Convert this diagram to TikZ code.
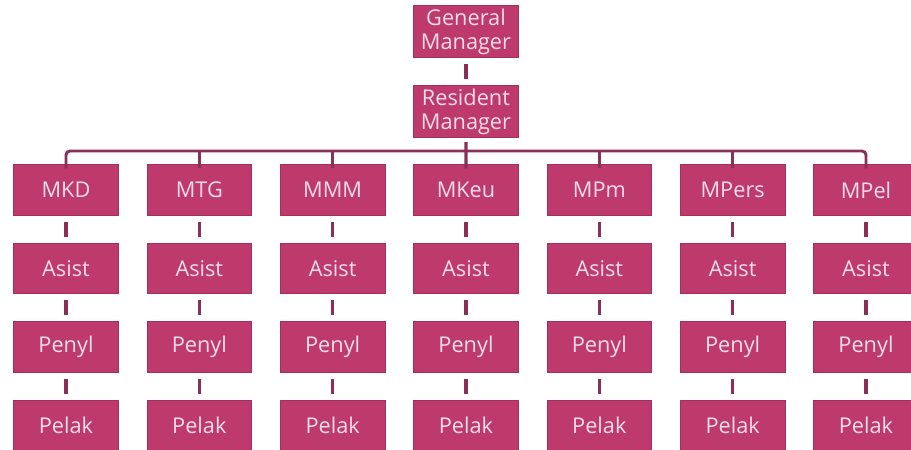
\documentclass[tikz,border=0pt]{standalone}
\usepackage{fontspec}
\setmainfont{Open Sans}
\definecolor{boxfill}{HTML}{BE3A6C}
\definecolor{linecol}{HTML}{8A2F58}
\definecolor{txtcol}{HTML}{F6DDE8}
\begin{document}
\begin{tikzpicture}[x=0.75pt,y=-0.75pt,
  orgbox/.style={draw=boxfill!85!black,line width=0.6pt,fill=boxfill,text=txtcol,minimum width=78.5pt,minimum height=38pt,inner sep=0pt,align=center,font=\fontsize{16.3}{18.8}\selectfont},
  link/.style={draw=linecol,line width=2.4pt,shorten >=4.5pt,shorten <=4.5pt},
  bus/.style={draw=linecol,line width=2.2pt,rounded corners=3pt}]
\useasboundingbox (0,0) rectangle (911,450);
\node[orgbox,minimum height=39pt] (gm) at (466,31.5) {General\\[-1pt]Manager};
\node[orgbox,minimum height=39pt] (rm) at (466,111.5) {Resident\\[-1pt]Manager};
\draw[link] (gm.south) -- (rm.south |- rm.north);
\foreach \i/\name in {0/MKD,1/MTG,2/MMM,3/MKeu,4/MPm,5/MPers,6/MPel}{
  \pgfmathsetmacro{\cx}{66+133.333*\i}
  \node[orgbox] (m\i) at (\cx,190) {\name};
  \node[orgbox] (a\i) at (\cx,268.5) {Asist};
  \node[orgbox] (p\i) at (\cx,347) {Penyl};
  \node[orgbox] (l\i) at (\cx,425.5) {Pelak};
  \draw[link] (m\i.south) -- (a\i.north);
  \draw[link] (a\i.south) -- (p\i.north);
  \draw[link] (p\i.south) -- (l\i.north);
}
\coordinate (busy) at (0,151);
\draw[bus] ([yshift=-3pt]m0.north) -- (m0.north |- busy) -- (m6.north |- busy) -- ([yshift=-3pt]m6.north);
\foreach \i in {1,2,4,5}{
  \draw[draw=linecol,line width=2.2pt] (m\i.north |- busy) -- ([yshift=-3pt]m\i.north);
}
\draw[draw=linecol,line width=2.4pt] ([yshift=-3pt]rm.south) -- ([yshift=-3pt]m3.north);
\end{tikzpicture}
\end{document}
